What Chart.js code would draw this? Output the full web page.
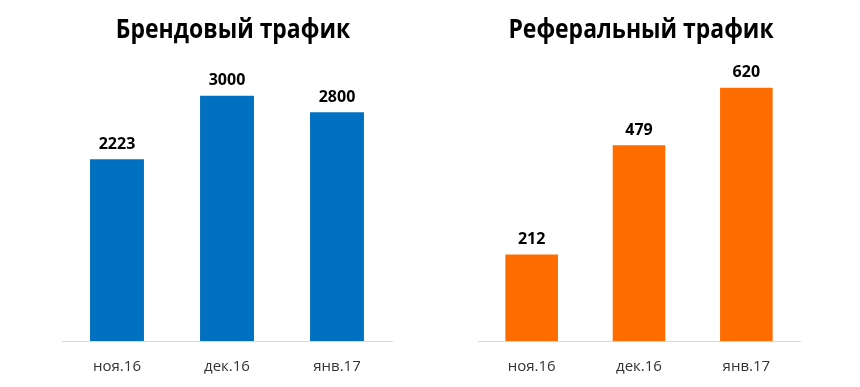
<!DOCTYPE html>
<html lang="ru">
<head>
<meta charset="UTF-8">
<title>Трафик</title>
<script src="https://cdn.jsdelivr.net/npm/chart.js"></script>
<style>
    body { margin: 0; background: #fff; }
    .janela { position: relative; width: 860px; height: 387px; }
    .graf { position: absolute; top: 0; height: 387px; }
    #g1 { left: 0; width: 430px; }
    #g2 { left: 430px; width: 430px; }
</style>
</head>
<body>
<div class="janela">
    <div class="graf" id="g1"><canvas id="canvasBrend"></canvas></div>
    <div class="graf" id="g2"><canvas id="canvasRef"></canvas></div>
</div>

<script>
    // dados
    const meses = ['ноя.16', 'дек.16', 'янв.17'];
    const brendovy = [2223, 3000, 2800];
    const referalny = [212, 479, 620];

    const fonte = "'Open Sans', 'DejaVu Sans', sans-serif";

    // escreve o valor em cima de cada barra
    const rotulos = {
        id: 'rotulos',
        afterDatasetsDraw(chart) {
            const ctx = chart.ctx;
            const meta = chart.getDatasetMeta(0);
            ctx.save();
            ctx.font = 'bold 16px ' + fonte;
            ctx.fillStyle = '#000';
            ctx.textAlign = 'center';
            ctx.textBaseline = 'bottom';
            meta.data.forEach(function (barra, i) {
                ctx.fillText(chart.data.datasets[0].data[i], barra.x, barra.y - 7);
            });
            ctx.restore();
        }
    };

    // titulo desenhado a mao (fonte um pouco condensada, como no original)
    const titulo = {
        id: 'titulo',
        afterDraw(chart, args, opts) {
            const ctx = chart.ctx;
            const area = chart.chartArea;
            ctx.save();
            ctx.font = 'bold 27px ' + fonte;
            ctx.fillStyle = '#000';
            ctx.textAlign = 'center';
            ctx.textBaseline = 'alphabetic';
            ctx.translate((area.left + area.right) / 2 + opts.desloc, 38);
            ctx.scale(0.85, 1);
            ctx.fillText(opts.texto, 0, 0);
            ctx.restore();
        }
    };

    function criarGrafico(id, texto, valores, cor, maximo, padEsq, padDir, desloc) {
        return new Chart(document.getElementById(id), {
            type: 'bar',
            data: {
                labels: meses,
                datasets: [{
                    data: valores,
                    backgroundColor: cor,
                    categoryPercentage: 1,
                    barPercentage: 0.49
                }]
            },
            options: {
                responsive: true,
                maintainAspectRatio: false,
                animation: false,
                layout: { padding: { left: padEsq, right: padDir, top: 55, bottom: 0 } },
                plugins: {
                    legend: { display: false },
                    tooltip: { enabled: false },
                    titulo: { texto: texto, desloc: desloc }
                },
                scales: {
                    x: {
                        grid: { display: false, drawTicks: false },
                        border: { display: true, color: '#d9d9d9', width: 1 },
                        ticks: { color: '#333', font: { family: fonte, size: 15 }, padding: 17 },
                        afterFit: function (escala) { escala.height = 46; }
                    },
                    y: { display: false, min: 0, max: maximo }
                }
            },
            plugins: [rotulos, titulo]
        });
    }

    criarGrafico('canvasBrend', 'Брендовый трафик', brendovy, '#0070C0', 3500, 62, 38, 6);
    criarGrafico('canvasRef', 'Реферальный трафик', referalny, '#FF6C00', 700, 48, 60, 2);
</script>
</body>
</html>
